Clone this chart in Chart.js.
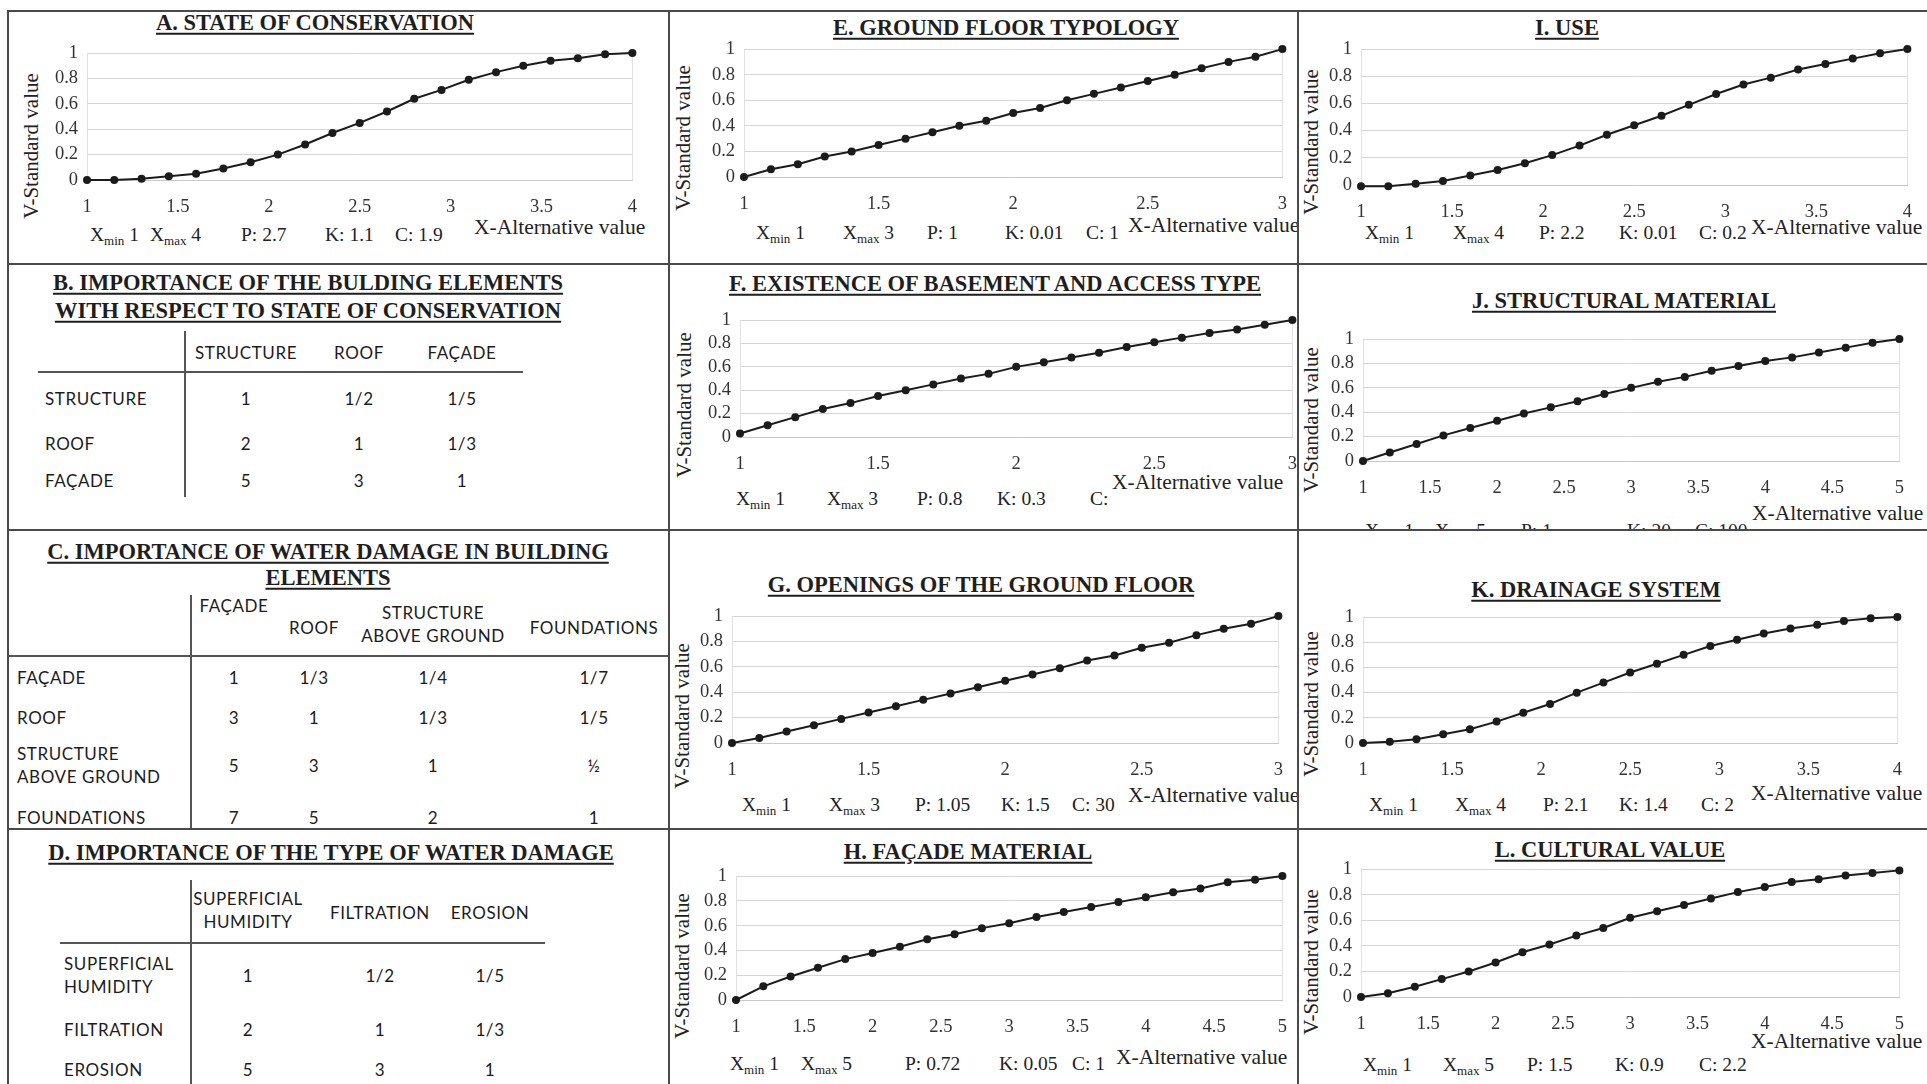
<!DOCTYPE html>
<html><head><meta charset="utf-8">
<title>Value functions and comparison matrices</title>
<script src="https://cdn.jsdelivr.net/npm/chart.js"></script>
<style>
html,body{margin:0;padding:0;background:#fff}
body{width:1927px;height:1084px;position:relative;overflow:hidden;font-family:"Liberation Serif","Times New Roman",serif;color:#222}
.panel{position:absolute;overflow:hidden}
.rule{position:absolute;background:#4a4a4a}
.t{position:absolute;white-space:nowrap;line-height:1}
.title{font-weight:bold;font-size:22.5px;text-decoration:underline;text-underline-offset:3px;text-decoration-thickness:2px;transform:translate(-50%,-50%);color:#1e1e1e}
.ytitle{font-size:21px;transform:translate(-50%,-50%) rotate(-90deg)}
.param{font-size:19.5px;transform:translateY(-50%)}
.param sub{font-size:13px;vertical-align:-4px;line-height:0}
.xtitle{font-size:21.5px;transform:translateY(-50%)}
.tb{font-family:Lato,"Open Sans",sans-serif;font-size:17px;letter-spacing:.6px;color:#1c1c1c;line-height:1.35}
.c{transform:translate(-50%,-50%);text-align:center}
.l{transform:translateY(-50%)}
.tl{position:absolute;background:#555}
canvas{position:absolute}
</style></head><body>
<script>
// ---------------- DATA ----------------
const X_1_4 = [1,1.15,1.3,1.45,1.6,1.75,1.9,2.05,2.2,2.35,2.5,2.65,2.8,2.95,3.1,3.25,3.4,3.55,3.7,3.85,4];
const X_1_3 = [1,1.1,1.2,1.3,1.4,1.5,1.6,1.7,1.8,1.9,2,2.1,2.2,2.3,2.4,2.5,2.6,2.7,2.8,2.9,3];
const X_1_5 = [1,1.2,1.4,1.6,1.8,2,2.2,2.4,2.6,2.8,3,3.2,3.4,3.6,3.8,4,4.2,4.4,4.6,4.8,5];

const valA = [0,0,0.01,0.03,0.05,0.09,0.14,0.20,0.28,0.37,0.45,0.54,0.64,0.71,0.79,0.85,0.90,0.94,0.96,0.99,1];
const valE = [0,0.06,0.10,0.16,0.20,0.25,0.30,0.35,0.40,0.44,0.50,0.54,0.60,0.65,0.70,0.75,0.80,0.85,0.90,0.94,1];
const valI = [-0.01,-0.01,0.01,0.03,0.07,0.11,0.16,0.22,0.29,0.37,0.44,0.51,0.59,0.67,0.74,0.79,0.85,0.89,0.93,0.97,1];
const valF = [0.03,0.10,0.17,0.24,0.29,0.35,0.40,0.45,0.50,0.54,0.60,0.64,0.68,0.72,0.77,0.81,0.85,0.89,0.92,0.96,1];
const valJ = [0,0.07,0.14,0.21,0.27,0.33,0.39,0.44,0.49,0.55,0.60,0.65,0.69,0.74,0.78,0.82,0.85,0.89,0.93,0.97,1];
const valG = [0,0.04,0.09,0.14,0.19,0.24,0.29,0.34,0.39,0.44,0.49,0.54,0.59,0.65,0.69,0.75,0.79,0.85,0.90,0.94,1];
const valK = [0,0.01,0.03,0.07,0.11,0.17,0.24,0.31,0.40,0.48,0.56,0.63,0.70,0.77,0.82,0.87,0.91,0.94,0.97,0.99,1];
const valH = [0,0.11,0.19,0.26,0.33,0.38,0.43,0.49,0.53,0.58,0.62,0.67,0.71,0.75,0.79,0.83,0.87,0.90,0.95,0.97,1];
const valL = [0,0.03,0.08,0.14,0.20,0.27,0.35,0.41,0.48,0.54,0.62,0.67,0.72,0.77,0.82,0.86,0.90,0.92,0.95,0.97,0.99];

// parameters: [Xmin, Xmax, P, K, C]
const parA = ['1','4','2.7','1.1','1.9'];
const parE = ['1','3','1','0.01','1'];
const parI = ['1','4','2.2','0.01','0.2'];
const parF = ['1','3','0.8','0.3',''];
const parJ = ['1','5','1','20','100'];
const parG = ['1','3','1.05','1.5','30'];
const parK = ['1','4','2.1','1.4','2'];
const parH = ['1','5','0.72','0.05','1'];
const parL = ['1','5','1.5','0.9','2.2'];

const Y_LABEL = 'V-Standard value';
const X_LABEL = 'X-Alternative value';

// tables
const tabB_title = ['B. IMPORTANCE OF THE BULDING ELEMENTS','WITH RESPECT TO STATE OF CONSERVATION'];
const tabB_cols = ['STRUCTURE','ROOF','FAÇADE'];
const tabB_rows = ['STRUCTURE','ROOF','FAÇADE'];
const tabB_vals = [['1','1/2','1/5'],['2','1','1/3'],['5','3','1']];

const tabC_title = ['C. IMPORTANCE OF WATER DAMAGE IN BUILDING','ELEMENTS'];
const tabC_cols = ['FAÇADE','ROOF','STRUCTURE<br>ABOVE GROUND','FOUNDATIONS'];
const tabC_rows = ['FAÇADE','ROOF','STRUCTURE<br>ABOVE GROUND','FOUNDATIONS'];
const tabC_vals = [['1','1/3','1/4','1/7'],['3','1','1/3','1/5'],['5','3','1','½'],['7','5','2','1']];

const tabD_title = ['D. IMPORTANCE OF THE TYPE OF WATER DAMAGE'];
const tabD_cols = ['SUPERFICIAL<br>HUMIDITY','FILTRATION','EROSION'];
const tabD_rows = ['SUPERFICIAL<br>HUMIDITY','FILTRATION','EROSION'];
const tabD_vals = [['1','1/2','1/5'],['2','1','1/3'],['5','3','1']];

// ---------------- LAYOUT ----------------
const COLS = [[9,669],[670,1298],[1299,1927]];
const ROWS = [[12,263],[264,530],[531,829],[830,1084]];
const panels = {};
for (let c=0;c<3;c++) for (let r=0;r<4;r++){
  const d=document.createElement('div'); d.className='panel';
  const [x0,x1]=COLS[c],[y0,y1]=ROWS[r];
  d.style.left=x0+'px'; d.style.top=y0+'px'; d.style.width=(x1-x0)+'px'; d.style.height=(y1-y0)+'px';
  d._x=x0; d._y=y0; document.body.appendChild(d); panels[c+'_'+r]=d;
}
function txt(p,cls,html,x,y){const e=document.createElement('div');e.className='t '+cls;e.innerHTML=html;e.style.left=(x-p._x)+'px';e.style.top=(y-p._y)+'px';p.appendChild(e);return e;}
function hline(p,x0,x1,y,w){const e=document.createElement('div');e.className='tl';e.style.left=(x0-p._x)+'px';e.style.top=(y-p._y)+'px';e.style.width=(x1-x0)+'px';e.style.height=(w||2)+'px';p.appendChild(e);}
function vline(p,x,y0,y1,w){const e=document.createElement('div');e.className='tl';e.style.left=(x-p._x)+'px';e.style.top=(y0-p._y)+'px';e.style.width=(w||2)+'px';e.style.height=(y1-y0)+'px';p.appendChild(e);}

const charts = [
  {p:'0_0', title:'A. STATE OF CONSERVATION', xs:X_1_4, ys:valA, par:parA, min:1,max:4,
   L:87,R:637,T:49,B:180, tx:315,ty:23, yx:31,yy:146, py:235, px:[90,150,241,325,395], xtx:474,xty:228},
  {p:'1_0', title:'E. GROUND FLOOR TYPOLOGY', xs:X_1_3, ys:valE, par:parE, min:1,max:3,
   L:744,R:1287,T:45,B:177, tx:1006,ty:28, yx:683,yy:138, py:233, px:[756,843,927,1005,1086], xtx:1128,xty:226},
  {p:'2_0', title:'I. USE', xs:X_1_4, ys:valI, par:parI, min:1,max:4,
   L:1361,R:1912,T:45,B:185, tx:1567,ty:28, yx:1311,yy:142, py:233, px:[1365,1453,1539,1619,1699], xtx:1751,xty:228},
  {p:'1_1', title:'F. EXISTENCE OF BASEMENT AND ACCESS TYPE', xs:X_1_3, ys:valF, par:parF, min:1,max:3,
   L:740,R:1297,T:316,B:437, tx:995,ty:284, yx:684,yy:405, py:499, px:[736,827,917,997,1090], xtx:1112,xty:483},
  {p:'2_1', title:'J. STRUCTURAL MATERIAL', xs:X_1_5, ys:valJ, par:parJ, min:1,max:5,
   L:1363,R:1904,T:335,B:461, tx:1624,ty:301, yx:1311,yy:420, py:531, px:[1365,1435,1521,1627,1695], xtx:1752,xty:514},
  {p:'1_2', title:'G. OPENINGS OF THE GROUND FLOOR', xs:X_1_3, ys:valG, par:parG, min:1,max:3,
   L:732,R:1283,T:612,B:743, tx:981,ty:585, yx:682,yy:716, py:805, px:[742,829,915,1001,1072], xtx:1128,xty:796},
  {p:'2_2', title:'K. DRAINAGE SYSTEM', xs:X_1_4, ys:valK, par:parK, min:1,max:4,
   L:1363,R:1902,T:613,B:743, tx:1596,ty:590, yx:1311,yy:704, py:805, px:[1369,1455,1543,1619,1701], xtx:1751,xty:794},
  {p:'1_3', title:'H. FAÇADE MATERIAL', xs:X_1_5, ys:valH, par:parH, min:1,max:5,
   L:736,R:1287,T:872,B:1000, tx:968,ty:852, yx:682,yy:966, py:1064, px:[730,801,905,999,1072], xtx:1116,xty:1058},
  {p:'2_3', title:'L. CULTURAL VALUE', xs:X_1_5, ys:valL, par:parL, min:1,max:5,
   L:1361,R:1904,T:865,B:997, tx:1610,ty:850, yx:1311,yy:962, py:1065, px:[1363,1443,1527,1615,1699], xtx:1751,xty:1042}
];

const PADL=70, PADT=16, PADR=16, PADB=48;
const parNames = ['X<sub>min</sub> ','X<sub>max</sub> ','P: ','K: ','C: '];
charts.forEach(d=>{
  const p=panels[d.p];
  txt(p,'title',d.title,d.tx,d.ty);
  txt(p,'ytitle',Y_LABEL,d.yx,d.yy);
  d.par.forEach((v,i)=>txt(p,'param',parNames[i]+v,d.px[i],d.py));
  txt(p,'xtitle',X_LABEL,d.xtx,d.xty);
  const cv=document.createElement('canvas');
  const w=d.R-d.L+PADL+PADR, h=d.B-d.T+PADT+PADB;
  cv.width=w; cv.height=h; cv.style.width=w+'px'; cv.style.height=h+'px';
  cv.style.left=(d.L-PADL-p._x)+'px'; cv.style.top=(d.T-PADT-p._y)+'px';
  p.appendChild(cv);
  new Chart(cv,{
    type:'line',
    data:{datasets:[{data:d.xs.map((x,i)=>({x:x,y:d.ys[i]})),borderColor:'#1b1b1b',backgroundColor:'#1b1b1b',
      borderWidth:2,pointRadius:4,pointBorderWidth:0,pointStyle:'circle',tension:0,clip:false}]},
    options:{responsive:false,animation:false,devicePixelRatio:1,
      layout:{padding:{top:PADT,right:PADR,left:0,bottom:0}},
      plugins:{legend:{display:false},tooltip:{enabled:false},title:{display:false}},
      scales:{
        x:{type:'linear',min:d.min,max:d.max,afterFit:s=>{s.height=PADB;},
          ticks:{stepSize:0.5,padding:16,color:'#333',maxRotation:0,autoSkip:false,font:{family:'Liberation Serif',size:18.5},callback:v=>String(v)},
          grid:{drawTicks:false,color:c=>(c.tick&&(c.tick.value===d.min||c.tick.value===d.max))?'#e2e2e2':'rgba(0,0,0,0)'},
          border:{display:true,color:'#c8c8c8'}},
        y:{min:0,max:1,afterFit:s=>{s.width=PADL;},
          ticks:{stepSize:0.2,padding:9,color:'#333',autoSkip:false,font:{family:'Liberation Serif',size:18.5},callback:v=>String(Math.round(v*10)/10)},
          grid:{drawTicks:false,color:'#d6d6d6'},border:{display:false}}
      }}
  });
});

// ---------- tables ----------
function table(p, spec){
  spec.title.forEach((t,i)=>txt(p,'title',t,spec.titleX,spec.titleY[i]));
  spec.cols.forEach((t,i)=>txt(p,'tb c',t,spec.colX[i],spec.headY[i]));
  spec.rows.forEach((t,i)=>txt(p,'tb l',t,spec.rowX,spec.rowY[i]));
  spec.vals.forEach((row,r)=>row.forEach((v,c)=>txt(p,'tb c',v,spec.colX[c],spec.rowY[r])));
  hline(p,spec.hx0,spec.hx1,spec.hy,2);
  vline(p,spec.vx,spec.vy0,spec.vy1,2);
}
table(panels['0_1'],{title:tabB_title,titleX:308,titleY:[283,311],cols:tabB_cols,rows:tabB_rows,vals:tabB_vals,
  colX:[246,359,462],headY:[353,353,353],rowX:45,rowY:[399,444,481],hx0:38,hx1:523,hy:371,vx:184,vy0:331,vy1:497});
table(panels['0_2'],{title:tabC_title,titleX:328,titleY:[552,578],cols:tabC_cols,rows:tabC_rows,vals:tabC_vals,
  colX:[234,314,433,594],headY:[606,628,625,628],rowX:17,rowY:[678,718,766,818],hx0:9,hx1:670,hy:655,vx:190,vy0:595,vy1:830});
table(panels['0_3'],{title:tabD_title,titleX:331,titleY:[853],cols:tabD_cols,rows:tabD_rows,vals:tabD_vals,
  colX:[248,380,490],headY:[911,913,913],rowX:64,rowY:[976,1030,1070],hx0:60,hx1:545,hy:942,vx:190,vy0:880,vy1:1084});

// ---------- panel rules ----------
function rule(x,y,w,h){const e=document.createElement('div');e.className='rule';e.style.left=x+'px';e.style.top=y+'px';e.style.width=w+'px';e.style.height=h+'px';document.body.appendChild(e);}
rule(7,10,1920,2); rule(7,263,1920,2); rule(7,529,1920,2); rule(7,828,1920,2);
rule(7,10,2,1074); rule(668,10,2,1074); rule(1297,10,2,1074);
</script>
</body></html>
